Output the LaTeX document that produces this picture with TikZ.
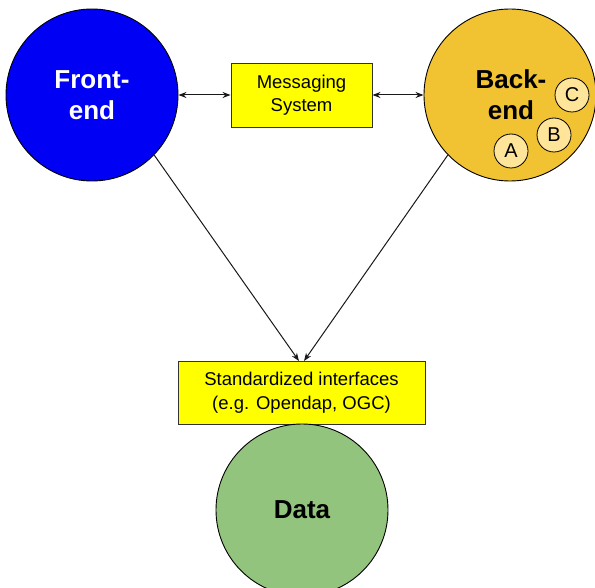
\documentclass[tikz,border=0pt]{standalone}
\usepackage{fontspec}
\setmainfont{Liberation Sans}
\usetikzlibrary{arrows.meta}
\definecolor{feblue}{RGB}{0,0,245}
\definecolor{beyellow}{RGB}{241,194,50}
\definecolor{datagreen}{RGB}{147,196,125}
\definecolor{smallfill}{RGB}{255,229,153}
\definecolor{boxyellow}{RGB}{255,255,0}
\tikzset{
  bigcircle/.style={circle, draw=black, line width=0.9pt, minimum size=172pt, inner sep=0pt, align=center, font=\bfseries\fontsize{26}{31}\selectfont},
  smallcircle/.style={circle, draw=black, line width=0.8pt, fill=smallfill, minimum size=34pt, inner sep=0pt, font=\fontsize{20}{24}\selectfont},
  yellowbox/.style={rectangle, draw=black!80, line width=0.9pt, fill=boxyellow, align=center, inner sep=0pt, font=\fontsize{18.5}{23.5}\selectfont},
  conn/.style={line width=1pt, draw=black!90},
  tip/.style={-{Stealth[length=8pt,width=6pt]}},
  dtip/.style={{Stealth[length=8pt,width=6pt]}-{Stealth[length=8pt,width=6pt]}}
}
\begin{document}
\begin{tikzpicture}[x=1pt,y=-1pt]
\useasboundingbox (0,0) rectangle (595,588);
\clip (0,0) rectangle (595,588);
\fill[white] (0,0) rectangle (595,588);
\node[bigcircle, fill=feblue, text=white] (fe) at (92,95) {Front-\\end};
\node[bigcircle, fill=beyellow, text=black] (be) at (510,95) {};
\node[font=\bfseries\fontsize{26}{31}\selectfont, align=center, inner sep=0pt] (betext) at (511,95) {Back-\\end};
\node[smallcircle] (c) at (572,95) {C};
\node[smallcircle] (b) at (554,135) {B};
\node[smallcircle] (a) at (511,151) {A};
\node[yellowbox, minimum width=141pt, minimum height=64pt] (msg) at (301.5,95) {Messaging\\System};
\node[yellowbox, minimum width=247pt, minimum height=63pt] (std) at (301.5,392.5) {Standardized interfaces\\(e.g. Opendap, OGC)};
\node[bigcircle, fill=datagreen, text=black] (data) at (302,510) {Data};
\coordinate (t1) at (299,361);
\coordinate (t2) at (304,361);
\draw[conn, dtip] (fe.east) -- (msg.west);
\draw[conn, dtip] (msg.east) -- (be.west);
\draw[conn, tip] (fe.-44.5) -- (t1);
\draw[conn, tip] (be.-136) -- (t2);
\end{tikzpicture}
\end{document}
